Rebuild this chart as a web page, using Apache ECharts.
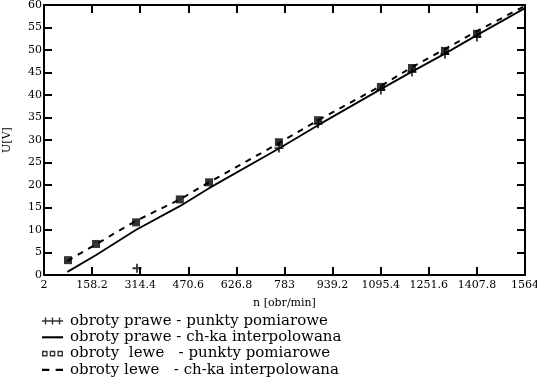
<!DOCTYPE html>
<html>
<head>
<meta charset="utf-8">
<script src="https://cdn.jsdelivr.net/npm/echarts@6/dist/echarts.min.js"></script>
<style>
  html, body { margin: 0; padding: 0; background: #fff; }
  #chart { width: 537px; height: 378px; }
</style>
</head>
<body>
<div id="chart"></div>
<script>
// axis ticks
const xTickLabels = ['2', '158.2', '314.4', '470.6', '626.8', '783', '939.2', '1095.4', '1251.6', '1407.8', '1564']
const xMin = 2
const xMax = 1564
const xStep = 156.2

// obroty prawe - punkty pomiarowe (n, U)
const prawePoints = [
  [304, 1.5], [765, 28.2], [892, 33.6], [1096, 41.1], [1197, 45.1], [1304, 49.1], [1408, 52.9],
]
// obroty prawe - ch-ka interpolowana
const praweLine = [
  [78, 0.7], [170, 4.4], [300, 10.0], [443, 15.3], [538, 19.3], [765, 28.1],
  [892, 33.3], [1096, 41.3], [1197, 45.2], [1304, 49.2], [1408, 53.3], [1564, 59.3],
]
// obroty lewe - punkty pomiarowe
const lewePoints = [
  [80, 3.3], [171, 6.9], [301, 11.7], [443, 16.8], [538, 20.6], [765, 29.5],
  [892, 34.4], [1096, 41.8], [1197, 46.0], [1304, 49.8], [1408, 53.6],
]
// obroty lewe - ch-ka interpolowana
const leweLine = [
  [78, 3.1], [170, 6.8], [300, 12.0], [443, 16.8], [538, 20.6], [765, 29.3],
  [892, 34.4], [1096, 42.0], [1197, 46.2], [1304, 50.2], [1408, 54.2], [1564, 59.8],
]

const names = [
  'obroty prawe - punkty pomiarowe',
  'obroty prawe - ch-ka interpolowana',
  'obroty  lewe   - punkty pomiarowe',
  'obroty lewe   - ch-ka interpolowana',
]

const FONT = 'DejaVu Serif'
const plusPath = 'path://M4,0H6V4H10V6H6V10H4V6H0V4H4Z'

const axisCommon = {
  axisLine: { show: true, onZero: false, lineStyle: { color: '#000', width: 2 } },
  axisTick: { show: true, inside: true, length: 8, lineStyle: { color: '#000', width: 2 } },
  splitLine: { show: false },
}

const chart = echarts.init(document.getElementById('chart'))
chart.setOption({
  animation: false,
  backgroundColor: '#fff',
  grid: { left: 44, right: 12, top: 5, bottom: 103, outerBoundsMode: 'none' },
  legend: {
    orient: 'vertical',
    left: 42,
    top: 313,
    height: 65,
    padding: 0,
    itemWidth: 21,
    itemHeight: 8,
    itemGap: 0.3,
    selectedMode: false,
    textStyle: { fontFamily: FONT, fontSize: 15, color: '#000', lineHeight: 16, padding: [0, 0, 0, 2] },
    data: [
      { name: names[0], icon: 'path://M0,4H30V6H0Z M4,0H6V10H4Z M14,0H16V10H14Z M24,0H26V10H24Z' },
      { name: names[1], icon: 'path://M0,0H20V2H0Z' },
      { name: names[2], icon: 'path://M0,0H8V8H0Z M2,2V6H6V2Z M11,0H19V8H11Z M13,2V6H17V2Z M22,0H30V8H22Z M24,2V6H28V2Z' },
      { name: names[3], icon: 'path://M0,0H7V2H0Z M13,0H20V2H13Z' },
    ],
  },
  xAxis: [
    {
      type: 'value', min: xMin, max: xMax, interval: xStep,
      name: 'n [obr/min]', nameLocation: 'middle', nameGap: 23,
      nameTextStyle: { fontFamily: FONT, fontSize: 11, color: '#000' },
      axisLabel: {
        margin: 5, fontFamily: FONT, fontSize: 11, color: '#000',
        showMinLabel: true, showMaxLabel: true,
        formatter: (v, i) => xTickLabels[i] ?? '',
      },
      ...axisCommon,
    },
    {
      type: 'value', position: 'top', min: xMin, max: xMax, interval: xStep,
      axisLabel: { show: false },
      ...axisCommon,
    },
  ],
  yAxis: [
    {
      type: 'value', min: 0, max: 60, interval: 5,
      name: 'U[V]', nameLocation: 'middle', nameGap: 31, nameRotate: 90,
      nameTextStyle: { fontFamily: FONT, fontSize: 11, color: '#000' },
      axisLabel: { margin: 2, fontFamily: FONT, fontSize: 11, color: '#000' },
      ...axisCommon,
    },
    {
      type: 'value', position: 'right', min: 0, max: 60, interval: 5,
      axisLabel: { show: false },
      ...axisCommon,
    },
  ],
  series: [
    {
      name: names[1], type: 'line', data: praweLine, showSymbol: false, symbol: 'none',
      color: '#000', lineStyle: { color: '#000', width: 1.8 }, z: 2,
    },
    {
      name: names[3], type: 'line', data: leweLine, showSymbol: false, symbol: 'none',
      color: '#000', lineStyle: { color: '#000', width: 2, type: [6, 6] }, z: 2,
    },
    {
      name: names[0], type: 'scatter', data: prawePoints, symbol: plusPath, symbolSize: 9,
      itemStyle: { color: '#000' }, z: 3,
    },
    {
      name: names[2], type: 'scatter', data: lewePoints, symbol: 'rect', symbolSize: 8,
      itemStyle: { color: '#000' }, z: 4,
    },
  ],
})
</script>
</body>
</html>
